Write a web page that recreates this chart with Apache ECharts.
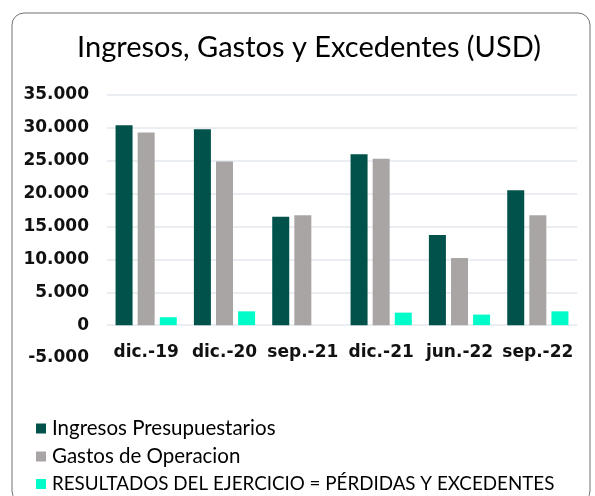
<!DOCTYPE html>
<html>
<head>
<meta charset="utf-8">
<script src="https://cdn.jsdelivr.net/npm/echarts@6/dist/echarts.min.js"></script>
<style>
  html, body { margin: 0; padding: 0; background: #fff; }
  #chart { width: 595px; height: 496px; }
</style>
</head>
<body>
<div id="chart"></div>
<script>
// periodos
var categorias = ['dic.-19', 'dic.-20', 'sep.-21', 'dic.-21', 'jun.-22', 'sep.-22'];
// valores en USD
var ingresos = [30400, 29800, 16500, 26000, 13700, 20500];
var gastos = [29300, 24900, 16700, 25300, 10200, 16700];
var resultados = [1200, 2100, 0, 1900, 1600, 2100];

var nombres = ['Ingresos Presupuestarios', 'Gastos de Operacion', 'RESULTADOS DEL EJERCICIO = PÉRDIDAS Y EXCEDENTES'];

function miles(v) {
    var s = Math.abs(v).toString().replace(/\B(?=(\d{3})+(?!\d))/g, '.');
    return (v < 0 ? '-' : '') + s;
}

var chart = echarts.init(document.getElementById('chart'));
var option = {
    animation: false,
    color: ['#01524A', '#A9A5A4', '#00FCC9'],
    graphic: [{
        type: 'rect',
        shape: {x: 12, y: 13, width: 578, height: 490, r: 12},
        style: {fill: 'none', stroke: '#707070', lineWidth: 1},
        silent: true
    }],
    title: {
        text: 'Ingresos, Gastos y Excedentes (USD)',
        left: 304,
        textAlign: 'center',
        top: 28,
        textStyle: {fontFamily: 'Lato', fontSize: 29, fontWeight: 'normal', color: '#000'}
    },
    legend: {
        orient: 'vertical',
        left: 36,
        top: 418,
        padding: 0,
        itemWidth: 10,
        itemHeight: 10,
        itemGap: 7,
        icon: 'rect',
        formatter: function (name) {
            // las mayúsculas del original son estrechas
            return name === nombres[2] ? '{n|' + name + '}' : name;
        },
        textStyle: {
            fontFamily: 'Lato', fontSize: 20.5, lineHeight: 20, color: '#000', padding: [0, 0, 0, 1],
            rich: {
                n: {fontFamily: 'Lato', fontSize: 18.8, lineHeight: 20, color: '#000'}
            }
        },
        data: nombres
    },
    grid: {left: 107, right: 18, top: 95, bottom: 138},
    xAxis: {
        type: 'category',
        data: categorias,
        axisLine: {show: false, onZero: false},
        axisTick: {show: false},
        axisLabel: {
            interval: 0,
            margin: -14,
            fontFamily: 'DejaVu Sans',
            fontWeight: 'bold',
            fontSize: 17,
            color: '#111'
        }
    },
    yAxis: {
        type: 'value',
        min: -5000,
        max: 35000,
        interval: 5000,
        axisLine: {show: false},
        axisTick: {show: false},
        splitLine: {show: true, showMinLine: false, lineStyle: {color: '#E3E7EC', width: 1.5}},
        axisLabel: {
            margin: 18,
            fontFamily: 'DejaVu Sans',
            fontWeight: 'bold',
            fontSize: 17,
            color: '#111',
            formatter: miles
        }
    },
    series: [
        {name: nombres[0], type: 'bar', data: ingresos, barWidth: 17, barGap: '30%'},
        {name: nombres[1], type: 'bar', data: gastos, barWidth: 17, barGap: '30%'},
        {name: nombres[2], type: 'bar', data: resultados, barWidth: 17, barGap: '30%'}
    ]
};
chart.setOption(option);
</script>
</body>
</html>
